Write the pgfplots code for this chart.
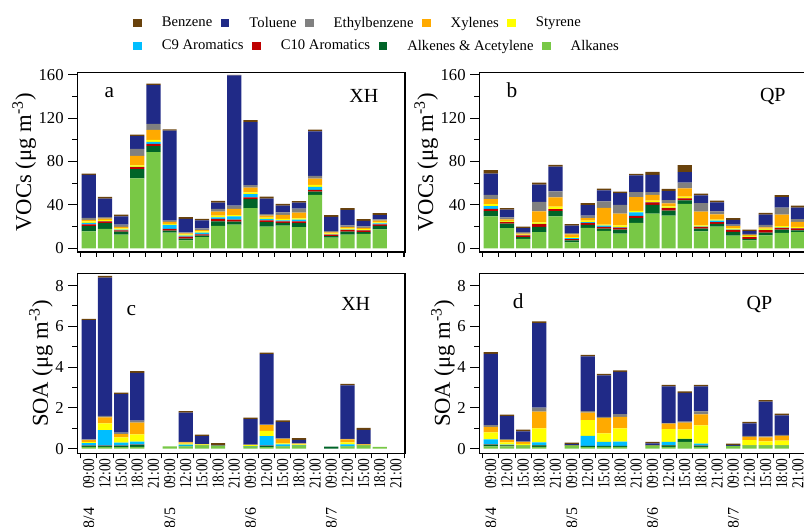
\documentclass[border=0pt]{standalone}
\usepackage{pgfplots}
\pgfplotsset{compat=1.18}
\usepackage{pgfplotstable}
\usepackage{fontspec}
\setmainfont{Liberation Serif}
\newfontfamily\narrowfont[FakeStretch=0.8]{Liberation Serif}

\definecolor{cben}{RGB}{105,66,12}
\definecolor{ctol}{RGB}{32,42,135}
\definecolor{ceth}{RGB}{128,128,128}
\definecolor{cxyl}{RGB}{255,170,0}
\definecolor{csty}{RGB}{255,255,0}
\definecolor{cnine}{RGB}{0,190,255}
\definecolor{cten}{RGB}{190,0,0}
\definecolor{cene}{RGB}{0,100,40}
\definecolor{calk}{RGB}{120,200,70}

% columns: x alk ene c10 c9 sty xyl eth tol ben
\pgfplotstableread{
x alk ene c10 c9 sty xyl eth tol ben
1 15.5 5.0 1.5 1.5 1.2 1.6 1.8 39.5 1.2
2 17.8 5.5 1.5 0.3 1.0 1.2 1.5 17.0 1.5
3 12.6 2.8 1.2 0.5 1.2 1.5 2.0 7.7 1.5
4 64.3 8.6 1.8 0.3 1.5 8.6 6.5 11.7 1.5
5 88.6 5.5 2.0 2.0 1.8 9.2 5.5 35.7 1.5
6 14.5 1.8 1.5 3.7 1.0 1.8 1.2 82.8 1.2
7 7.4 1.5 1.8 0.9 1.2 0.9 0.9 12.6 1.5
8 10.2 1.5 1.2 1.5 1.2 1.2 1.5 7.4 1.5
9 20.6 4.3 2.2 1.5 1.5 3.7 2.5 5.8 1.5
10 21.8 2.8 1.8 3.0 1.2 5.8 2.8 120.0 0.6
11 36.9 8.3 1.8 3.0 1.5 4.3 2.5 58.0 1.8
12 20.0 4.0 1.8 1.2 1.2 1.8 1.5 14.2 1.8
13 20.9 2.5 1.5 0.9 1.2 3.7 2.5 6.2 1.5
14 19.4 3.7 1.8 1.5 1.2 5.2 3.7 5.5 1.5
15 49.2 3.1 1.5 2.8 1.8 5.8 2.5 40.9 1.8
16 9.8 1.5 1.2 0.3 0.9 0.9 1.2 13.2 1.5
17 12.6 2.8 1.5 0.3 1.2 1.2 1.5 14.2 1.8
18 13.2 1.8 1.5 0.3 0.9 1.2 1.2 5.2 1.5
19 17.5 3.1 1.5 0.9 0.9 1.5 1.2 4.0 1.8
}\tabA

\pgfplotstableread{
x alk ene c10 c9 sty xyl eth tol ben
1 29.3 4.9 2.2 2.5 1.8 4.6 4.0 19.4 3.4
2 18.5 4.3 1.2 0.3 0.9 1.5 1.8 7.1 1.5
3 8.6 1.8 1.5 0.2 0.6 0.9 1.2 3.7 1.5
4 14.8 4.9 2.5 0.2 1.5 10.2 8.6 16.0 1.8
5 29.3 4.9 1.8 0.2 2.2 8.6 5.5 22.8 1.5
6 5.5 1.8 1.2 0.9 0.9 2.5 1.2 6.8 1.5
7 18.8 2.8 1.8 0.6 1.5 2.2 2.5 9.6 1.8
8 16.0 2.2 1.5 1.3 0.9 15.4 5.9 10.2 1.5
9 13.6 3.7 1.8 0.3 1.8 10.8 8.0 10.8 1.5
10 23.4 4.3 2.2 3.1 1.5 12.6 4.6 15.4 1.5
11 32.0 8.0 2.2 0.3 1.5 5.2 2.5 16.0 2.8
12 30.2 4.6 2.2 0.2 1.5 2.8 2.8 8.3 2.2
13 41.0 3.1 1.8 0.2 1.5 7.7 5.2 9.6 6.5
14 15.7 2.5 1.5 0.2 1.2 12.6 8.0 7.1 1.5
15 20.0 2.5 1.5 1.5 0.9 4.9 2.8 8.3 1.5
16 11.7 3.4 1.8 0.2 1.2 2.2 1.2 4.6 1.5
17 7.4 1.2 1.8 0.2 0.6 1.2 0.9 2.5 1.5
18 12.0 2.5 2.2 0.2 1.2 1.2 2.2 9.6 1.5
19 14.2 3.1 1.5 0.2 1.5 10.5 6.5 9.6 1.8
20 14.8 1.8 1.8 0.2 1.2 4.6 2.5 10.5 1.8
}\tabB

\pgfplotstableread{
x alk ene c10 c9 sty xyl eth tol ben
1 0.08 0.05 0.01 0.13 0.05 0.10 0.03 5.85 0.07
2 0.08 0.05 0.01 0.77 0.33 0.29 0.08 6.78 0.08
3 0.07 0.06 0.01 0.15 0.26 0.16 0.07 1.89 0.07
4 0.08 0.10 0.01 0.15 0.36 0.57 0.10 2.35 0.08
6 0.11 0 0 0 0 0 0 0 0
7 0.11 0.02 0 0.06 0.05 0.07 0.02 1.43 0.08
8 0.13 0.01 0 0.01 0.05 0.01 0.01 0.39 0.08
9 0.14 0 0 0 0 0.01 0 0.02 0.10
11 0.10 0.01 0 0.01 0.05 0.01 0.01 1.25 0.08
12 0.07 0.06 0.01 0.47 0.26 0.28 0.02 3.46 0.08
13 0.11 0.01 0 0.08 0.05 0.23 0.02 0.80 0.08
14 0.15 0.01 0 0.01 0.03 0.04 0.01 0.18 0.08
16 0 0.10 0 0 0 0 0 0 0
17 0.11 0.01 0 0.08 0.10 0.15 0.02 2.63 0.08
18 0.13 0.01 0 0.01 0.03 0.03 0.01 0.70 0.10
19 0.08 0 0 0 0 0 0 0 0
}\tabC

\pgfplotstableread{
x alk ene c10 c9 sty xyl eth tol ben
1 0.11 0.08 0.01 0.25 0.34 0.28 0.08 3.50 0.08
2 0.11 0.05 0.01 0.02 0.11 0.11 0.05 1.13 0.08
3 0.13 0.01 0 0.01 0.08 0.10 0.01 0.51 0.08
4 0.08 0.08 0.01 0.13 0.69 0.82 0.20 4.15 0.08
6 0.13 0.01 0 0 0.01 0.01 0.01 0.05 0.07
7 0.07 0.05 0.01 0.49 0.78 0.36 0.08 2.68 0.08
8 0.08 0.04 0.01 0.20 0.41 0.77 0.05 2.03 0.08
9 0.08 0.04 0.01 0.21 0.65 0.57 0.13 2.07 0.08
11 0.13 0.01 0 0 0.01 0.01 0.01 0.09 0.07
12 0.08 0.08 0.01 0.16 0.62 0.28 0.02 1.80 0.08
13 0.33 0.13 0 0.01 0.47 0.33 0.05 1.41 0.08
14 0.08 0.05 0.01 0.10 0.90 0.54 0.15 1.22 0.08
16 0.13 0 0 0 0 0 0 0.04 0.07
17 0.13 0.01 0 0.01 0.26 0.16 0.05 0.62 0.07
18 0.13 0.01 0 0.01 0.20 0.20 0.05 1.70 0.08
19 0.13 0.01 0 0.01 0.24 0.23 0.05 0.96 0.08
}\tabD

\newcommand{\dl}[1]{{\fontsize{12}{13}\selectfont\rmfamily #1}\hspace{14pt}}

\pgfplotsset{
  panel/.style={
    scale only axis, width=245.75pt, height=134.5pt,
    xmin=0.29, xmax=20.56,
    ybar stacked, bar width=0.88,
    xtick={1,...,20},
    major x tick style={draw=none},
    minor xtick={0.5,1.5,...,20.5},
    tick align=outside, tick pos=left,
    major tick length=6.75pt, minor tick length=3.75pt,
    tick style={black, line width=0.8pt},
    axis line style={line width=0.8pt},
    xticklabel shift=-3pt,
    xticklabel style={font=\narrowfont\fontsize{12.5}{13}\selectfont, rotate=90, anchor=east, inner sep=0pt},
    yticklabel style={font=\fontsize{12.5}{14}\selectfont},
    /pgf/number format/assume math mode=true,
    ylabel style={font=\fontsize{17}{19}\selectfont},
    ylabel shift=-5pt,
  },
  voc/.style={panel, ymin=-3.4, ymax=161.8, ytick={0,40,...,160}, minor ytick={20,60,100,140},
    xticklabels={},
    ylabel={VOCs (μg m\textsuperscript{-3})}},
  soa/.style={panel, ymin=-0.23, ymax=8.57, ytick={0,2,...,8}, minor ytick={1,3,5,7},
    xticklabels={\dl{8/4}09:00,12:00,15:00,18:00,21:00,
                 \dl{8/5}09:00,12:00,15:00,18:00,21:00,
                 \dl{8/6}09:00,12:00,15:00,18:00,21:00,
                 \dl{8/7}09:00,12:00,15:00,18:00,21:00},
    ylabel={SOA (μg m\textsuperscript{-3})}},
  lgd/.style={scale only axis, width=603pt, height=395.25pt, hide axis,
    xmin=0, xmax=1, ymin=0, ymax=1,
    legend style={draw=none, fill=none, inner sep=0pt, anchor=west,
      font=\fontsize{11}{13}\selectfont},
    legend cell align=left,
    legend image code/.code={\fill[##1] (0pt,-2.75pt) rectangle (5.5pt,2.75pt);},
    /tikz/every odd column/.append style={column sep=13.5pt},
    /tikz/every even column/.append style={column sep=4.5pt},
  },
}

\newcommand{\stackbars}[1]{%
  \addplot[fill=calk, draw=none] table[x=x, y=alk] {#1};
  \addplot[fill=cene, draw=none] table[x=x, y=ene] {#1};
  \addplot[fill=cten, draw=none] table[x=x, y=c10] {#1};
  \addplot[fill=cnine, draw=none] table[x=x, y=c9] {#1};
  \addplot[fill=csty, draw=none] table[x=x, y=sty] {#1};
  \addplot[fill=cxyl, draw=none] table[x=x, y=xyl] {#1};
  \addplot[fill=ceth, draw=none] table[x=x, y=eth] {#1};
  \addplot[fill=ctol, draw=none] table[x=x, y=tol] {#1};
  \addplot[fill=cben, draw=none] table[x=x, y=ben] {#1};
}

\begin{document}
\begin{tikzpicture}
\begin{axis}[voc, at={(58pt,206.25pt)}, anchor=south west]
\stackbars{\tabA}
\node[anchor=base west, font=\fontsize{16}{18}\selectfont] at (rel axis cs:0.069,0.86) {a};
\node[anchor=base east, font=\fontsize{15}{17}\selectfont] at (rel axis cs:0.933,0.832) {XH};
\end{axis}
\begin{axis}[voc, at={(359.5pt,206.25pt)}, anchor=south west]
\stackbars{\tabB}
\node[anchor=base west, font=\fontsize{16}{18}\selectfont] at (rel axis cs:0.069,0.86) {b};
\node[anchor=base east, font=\fontsize{15}{17}\selectfont] at (rel axis cs:0.949,0.84) {QP};
\end{axis}
\begin{axis}[soa, at={(58pt,55.3pt)}, anchor=south west]
\stackbars{\tabC}
\node[anchor=base west, font=\fontsize{16}{18}\selectfont] at (rel axis cs:0.136,0.768) {c};
\node[anchor=base east, font=\fontsize{15}{17}\selectfont] at (rel axis cs:0.908,0.796) {XH};
\end{axis}
\begin{axis}[soa, at={(359.5pt,55.3pt)}, anchor=south west]
\stackbars{\tabD}
\node[anchor=base west, font=\fontsize{16}{18}\selectfont] at (rel axis cs:0.088,0.807) {d};
\node[anchor=base east, font=\fontsize{15}{17}\selectfont] at (rel axis cs:0.908,0.80) {QP};
\end{axis}
\begin{axis}[lgd, at={(0pt,0pt)}, anchor=south west,
  legend columns=5, legend style={at={(0.16542,0.95636)}}]
\addlegendimage{cben}\addlegendentry{Benzene}
\addlegendimage{ctol}\addlegendentry{Toluene}
\addlegendimage{ceth}\addlegendentry{Ethylbenzene}
\addlegendimage{cxyl}\addlegendentry{Xylenes}
\addlegendimage{csty}\addlegendentry{Styrene}
\end{axis}
\begin{axis}[lgd, at={(0pt,0pt)}, anchor=south west,
  legend columns=4, legend style={at={(0.16542,0.91271)}}]
\addlegendimage{cnine}\addlegendentry{C9 Aromatics}
\addlegendimage{cten}\addlegendentry{C10 Aromatics}
\addlegendimage{cene}\addlegendentry{Alkenes \& Acetylene}
\addlegendimage{calk}\addlegendentry{Alkanes}
\end{axis}
\pgfresetboundingbox
\useasboundingbox (0pt,0pt) rectangle (603pt,395.25pt);
\end{tikzpicture}
\end{document}
